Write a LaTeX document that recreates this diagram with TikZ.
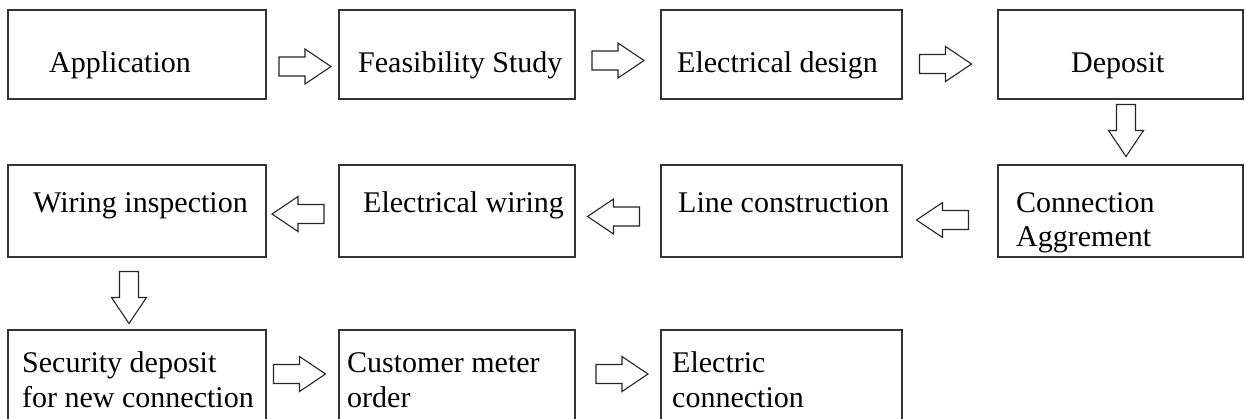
\documentclass[tikz,border=0pt]{standalone}
\usepackage{fontspec}
\setmainfont{Liberation Serif}
\usetikzlibrary{calc,positioning}

\tikzset{
  stage/.style 2 args={draw=black!80, line width=1.4pt, minimum width=#1, minimum height=#2, inner sep=0pt, outer sep=0pt},
  txt/.style={anchor=base west, inner sep=0pt, align=left, font=\fontsize{30}{34.5}\selectfont},
  arrowline/.style={draw=black!85, line width=1.1pt, line join=miter, fill=white},
  blockarrow/.pic={
    \draw[arrowline] (-26,-9.5) -- (0,-9.5) -- (0,-17.5) -- (26,0) -- (0,17.5) -- (0,9.5) -- (-26,9.5) -- cycle;
  }
}

\begin{document}
\begin{tikzpicture}[x=1pt, y=-1pt]
\useasboundingbox (0,0) rectangle (1245,418);
\clip (0,0) rectangle (1245,418);

% first row
\node[stage={258pt}{89pt}] (app) at (137,54.5) {};
\node[stage={236pt}{89pt}, right=73pt of app] (feas) {};
\node[stage={241pt}{89pt}, right=86pt of feas] (edes) {};
\node[stage={245pt}{89pt}, right=96pt of edes] (dep) {};

% second row, right to left
\node[stage={245pt}{92pt}, below=66pt of dep] (conn) {};
\node[stage={241pt}{92pt}, left=96pt of conn] (line) {};
\node[stage={236pt}{92pt}, left=86pt of line] (ewir) {};
\node[stage={258pt}{92pt}, left=73pt of ewir] (wins) {};

% third row
\node[stage={258pt}{110pt}, below=73pt of wins] (sec) {};
\node[stage={236pt}{110pt}, right=73pt of sec] (cmo) {};
\node[stage={241pt}{110pt}, right=86pt of cmo] (econ) {};

% texts (two-line ones sit on their last baseline)
\node[txt] (appt) at (49,72) {Application};
\node[txt] (feast) at (358,72) {Feasibility Study};
\node[txt] (edest) at (677,72) {Electrical design};
\node[txt] (dept) at (1071,72) {Deposit};
\node[txt] (winst) at (33,212) {Wiring inspection};
\node[txt] (ewirt) at (363,212) {Electrical wiring};
\node[txt] (linet) at (678,212) {Line construction};
\node[txt] (connt) at (1016,246.5) {Connection\\Aggrement};
\node[txt] (sect) at (22,407) {Security deposit\\for new connection};
\node[txt] (cmot) at (347,407) {Customer meter\\order};
\node[txt] (econt) at (672,407) {Electric\\connection};

% arrows
\pic[xshift=2.5pt, yshift=-12pt] at ($(app.east)!.5!(feas.west)$) {blockarrow};
\pic[yshift=-6pt] at ($(feas.east)!.5!(edes.west)$) {blockarrow};
\pic[xshift=-4.5pt, yshift=-9.5pt] at ($(edes.east)!.5!(dep.west)$) {blockarrow};
\pic[xshift=5.5pt, yshift=1.5pt, rotate=-90] at ($(dep.south)!.5!(conn.north)$) {blockarrow};
\pic[xshift=-7.5pt, yshift=-9pt, rotate=180] at ($(line.east)!.5!(conn.west)$) {blockarrow};
\pic[xshift=-4.5pt, yshift=-5.5pt, rotate=180] at ($(ewir.east)!.5!(line.west)$) {blockarrow};
\pic[xshift=-4.5pt, yshift=-3pt, rotate=180] at ($(wins.east)!.5!(ewir.west)$) {blockarrow};
\pic[xshift=-8pt, yshift=-4pt, rotate=-90] at ($(wins.south)!.5!(sec.north)$) {blockarrow};
\pic[xshift=-3pt, yshift=11pt] at ($(sec.east)!.5!(cmo.west)$) {blockarrow};
\pic[xshift=4pt, yshift=11pt] at ($(cmo.east)!.5!(econ.west)$) {blockarrow};
\end{tikzpicture}
\end{document}
